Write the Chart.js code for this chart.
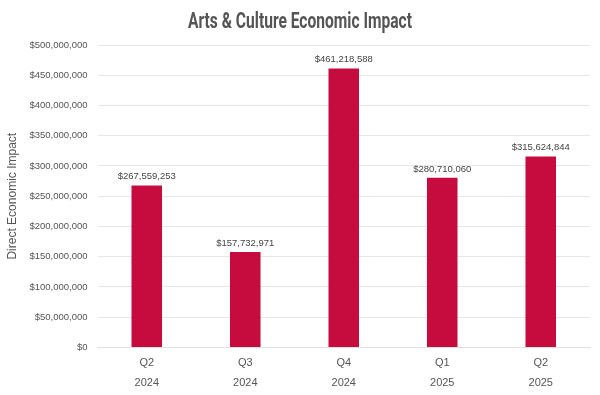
<!DOCTYPE html>
<html lang="en">
<head>
    <meta charset="UTF-8">
    <title>Arts & Culture Economic Impact</title>
    <script src="https://cdn.jsdelivr.net/npm/chart.js"></script>
    <style>
        html, body { margin: 0; padding: 0; background: #fff; }
        #wrap { width: 600px; height: 395px; position: relative; }
    </style>
</head>
<body>
<div id="wrap"><canvas id="impactChart"></canvas></div>
<script>
const chartTitle = 'Arts & Culture Economic Impact';
const quarters = ['Q2', 'Q3', 'Q4', 'Q1', 'Q2'];
const years = ['2024', '2024', '2024', '2025', '2025'];
const impactValues = [267559253, 157732971, 461218588, 280710060, 315624844];

const money = v => '$' + Math.round(v).toLocaleString('en-US');

// value labels above the bars
const barLabels = {
    id: 'barLabels',
    afterDatasetsDraw(chart) {
        const ctx = chart.ctx;
        const meta = chart.getDatasetMeta(0);
        ctx.save();
        ctx.font = '9.5px "Liberation Sans", Arial, sans-serif';
        ctx.fillStyle = '#444';
        ctx.textAlign = 'center';
        ctx.textBaseline = 'bottom';
        meta.data.forEach((bar, i) => {
            ctx.fillText(money(impactValues[i]), bar.x, bar.y - 4);
        });
        ctx.restore();
    }
};

// condensed bold title (no narrow font installed, so squeeze it)
const condensedTitle = {
    id: 'condensedTitle',
    afterDraw(chart) {
        const ctx = chart.ctx;
        ctx.save();
        ctx.font = 'bold 22px Roboto, "Liberation Sans", sans-serif';
        ctx.fillStyle = '#555';
        ctx.textBaseline = 'alphabetic';
        const w = ctx.measureText(chartTitle).width;
        const sx = 224 / w;
        ctx.translate(300, 28);
        ctx.scale(sx, 1);
        ctx.textAlign = 'center';
        ctx.fillText(chartTitle, 0, 0);
        ctx.restore();
    }
};

new Chart(document.getElementById('impactChart'), {
    type: 'bar',
    data: {
        labels: quarters.map((q, i) => [q, years[i]]),
        datasets: [{
            data: impactValues,
            backgroundColor: '#C60C3F',
            categoryPercentage: 1,
            barPercentage: 0.31
        }]
    },
    options: {
        responsive: true,
        maintainAspectRatio: false,
        animation: false,
        layout: { padding: { left: 2, right: 10, top: 45, bottom: -4 } },
        plugins: {
            legend: { display: false },
            tooltip: { enabled: false },
            title: { display: false }
        },
        scales: {
            x: {
                grid: { display: false, drawTicks: false },
                border: { color: '#e0e0e0' },
                ticks: {
                    color: '#555',
                    padding: 6,
                    font: { family: '"Liberation Sans", Arial, sans-serif', size: 11, lineHeight: 1.8 }
                }
            },
            y: {
                min: 0,
                max: 500000000,
                grid: { color: '#e6e6e6', drawTicks: false },
                border: { display: false },
                ticks: {
                    stepSize: 50000000,
                    color: '#555',
                    padding: 10,
                    font: { family: '"Liberation Sans", Arial, sans-serif', size: 9.5 },
                    callback: v => money(v)
                },
                title: {
                    display: true,
                    text: 'Direct Economic Impact',
                    color: '#555',
                    font: { family: '"Liberation Sans", Arial, sans-serif', size: 12 },
                    padding: { top: 3, bottom: 0 }
                }
            }
        }
    },
    plugins: [barLabels, condensedTitle]
});
</script>
</body>
</html>
